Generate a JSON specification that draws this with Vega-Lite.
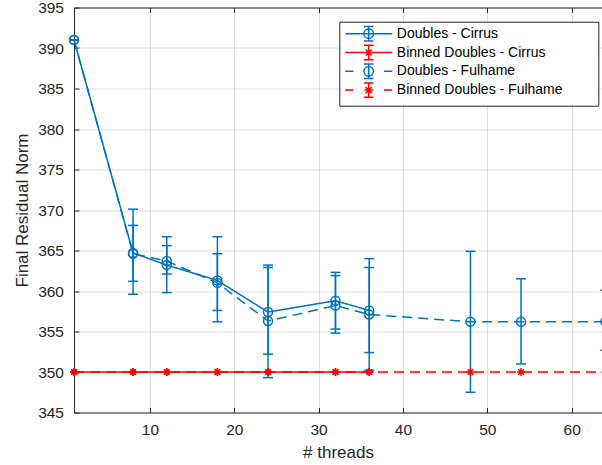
{
  "$schema": "https://vega.github.io/schema/vega-lite/v6.json",
  "width": 528,
  "height": 405,
  "autosize": {"type": "none"},
  "padding": {"left": 74, "top": 7.5, "right": 0, "bottom": 52.5},
  "config": {
    "font": "Liberation Sans",
    "view": {"stroke": null},
    "axis": {
      "domainColor": "#262626",
      "tickColor": "#262626",
      "labelColor": "#262626",
      "titleColor": "#262626",
      "labelFont": "Liberation Sans",
      "titleFont": "Liberation Sans",
      "labelFontSize": 15.5,
      "titleFontSize": 17,
      "titleFontWeight": "normal",
      "gridColor": "#262626",
      "gridOpacity": 0.15,
      "tickSize": -5,
      "labelFlush": false,
      "domainWidth": 1,
      "tickWidth": 1
    }
  },
  "data": {
    "values": [
      {"series": "Doubles - Cirrus", "threads": 1, "y": 391.0, "lo": 391.0, "hi": 391.0},
      {"series": "Doubles - Cirrus", "threads": 8, "y": 364.7, "lo": 359.6, "hi": 370.1},
      {"series": "Doubles - Cirrus", "threads": 12, "y": 363.2, "lo": 359.8, "hi": 366.7},
      {"series": "Doubles - Cirrus", "threads": 18, "y": 361.3, "lo": 356.2, "hi": 366.7},
      {"series": "Doubles - Cirrus", "threads": 24, "y": 357.4, "lo": 352.2, "hi": 362.9},
      {"series": "Doubles - Cirrus", "threads": 32, "y": 358.8, "lo": 355.3, "hi": 362.3},
      {"series": "Doubles - Cirrus", "threads": 36, "y": 357.6, "lo": 352.4, "hi": 362.9},
      {"series": "Binned Doubles - Cirrus", "threads": 1, "y": 350.0, "lo": 350.0, "hi": 350.0},
      {"series": "Binned Doubles - Cirrus", "threads": 8, "y": 350.0, "lo": 350.0, "hi": 350.0},
      {"series": "Binned Doubles - Cirrus", "threads": 12, "y": 350.0, "lo": 350.0, "hi": 350.0},
      {"series": "Binned Doubles - Cirrus", "threads": 18, "y": 350.0, "lo": 350.0, "hi": 350.0},
      {"series": "Binned Doubles - Cirrus", "threads": 24, "y": 350.0, "lo": 350.0, "hi": 350.0},
      {"series": "Binned Doubles - Cirrus", "threads": 32, "y": 350.0, "lo": 350.0, "hi": 350.0},
      {"series": "Binned Doubles - Cirrus", "threads": 36, "y": 350.0, "lo": 350.0, "hi": 350.0},
      {"series": "Doubles - Fulhame", "threads": 1, "y": 391.0, "lo": 391.0, "hi": 391.0},
      {"series": "Doubles - Fulhame", "threads": 8, "y": 364.6, "lo": 361.2, "hi": 368.1},
      {"series": "Doubles - Fulhame", "threads": 12, "y": 363.7, "lo": 362.1, "hi": 365.6},
      {"series": "Doubles - Fulhame", "threads": 18, "y": 361.0, "lo": 357.6, "hi": 364.6},
      {"series": "Doubles - Fulhame", "threads": 24, "y": 356.3, "lo": 349.3, "hi": 363.2},
      {"series": "Doubles - Fulhame", "threads": 32, "y": 358.2, "lo": 354.8, "hi": 361.9},
      {"series": "Doubles - Fulhame", "threads": 36, "y": 357.1, "lo": 350.2, "hi": 364.0},
      {"series": "Doubles - Fulhame", "threads": 48, "y": 356.2, "lo": 347.5, "hi": 364.9},
      {"series": "Doubles - Fulhame", "threads": 54, "y": 356.2, "lo": 351.0, "hi": 361.5},
      {"series": "Doubles - Fulhame", "threads": 64, "y": 356.2, "lo": 352.7, "hi": 360.1},
      {"series": "Binned Doubles - Fulhame", "threads": 1, "y": 350.0, "lo": 350.0, "hi": 350.0},
      {"series": "Binned Doubles - Fulhame", "threads": 8, "y": 350.0, "lo": 350.0, "hi": 350.0},
      {"series": "Binned Doubles - Fulhame", "threads": 12, "y": 350.0, "lo": 350.0, "hi": 350.0},
      {"series": "Binned Doubles - Fulhame", "threads": 18, "y": 350.0, "lo": 350.0, "hi": 350.0},
      {"series": "Binned Doubles - Fulhame", "threads": 24, "y": 350.0, "lo": 350.0, "hi": 350.0},
      {"series": "Binned Doubles - Fulhame", "threads": 32, "y": 350.0, "lo": 350.0, "hi": 350.0},
      {"series": "Binned Doubles - Fulhame", "threads": 36, "y": 350.0, "lo": 350.0, "hi": 350.0},
      {"series": "Binned Doubles - Fulhame", "threads": 48, "y": 350.0, "lo": 350.0, "hi": 350.0},
      {"series": "Binned Doubles - Fulhame", "threads": 54, "y": 350.0, "lo": 350.0, "hi": 350.0},
      {"series": "Binned Doubles - Fulhame", "threads": 64, "y": 350.0, "lo": 350.0, "hi": 350.0}
    ]
  },
  "layer": [
    {
      "transform": [{"filter": {"field": "series", "oneOf": ["Doubles - Cirrus", "Doubles - Fulhame"]}}],
      "mark": {"type": "rule", "strokeWidth": 1.5},
      "encoding": {
        "x": {"field": "threads", "type": "quantitative",
          "scale": {"domain": [1, 63.6], "nice": false, "zero": false},
          "axis": {"orient": "bottom", "values": [10, 20, 30, 40, 50, 60], "title": "# threads", "grid": true, "labelPadding": 15, "titlePadding": 6}},
        "y": {"field": "lo", "type": "quantitative",
          "scale": {"domain": [345, 395], "nice": false, "zero": false},
          "axis": {"values": [345, 350, 355, 360, 365, 370, 375, 380, 385, 390, 395], "title": "Final Residual Norm", "grid": true, "labelPadding": 15.5, "titlePadding": 6}},
        "y2": {"field": "hi"},
        "color": {"field": "series", "type": "nominal",
          "scale": {"domain": ["Doubles - Cirrus", "Binned Doubles - Cirrus", "Doubles - Fulhame", "Binned Doubles - Fulhame"], "range": ["#0072BD", "#FF0000", "#0072BD", "#FF0000"]},
          "legend": null}
      }
    },
    {
      "transform": [{"filter": {"field": "series", "oneOf": ["Doubles - Cirrus", "Doubles - Fulhame"]}}],
      "mark": {"type": "tick", "orient": "horizontal", "size": 10, "thickness": 1.5, "opacity": 1},
      "encoding": {
        "x": {"field": "threads", "type": "quantitative", "axis": null},
        "y": {"field": "lo", "type": "quantitative", "axis": null},
        "color": {"field": "series", "type": "nominal", "legend": null}
      }
    },
    {
      "transform": [{"filter": {"field": "series", "oneOf": ["Doubles - Cirrus", "Doubles - Fulhame"]}}],
      "mark": {"type": "tick", "orient": "horizontal", "size": 10, "thickness": 1.5, "opacity": 1},
      "encoding": {
        "x": {"field": "threads", "type": "quantitative", "axis": null},
        "y": {"field": "hi", "type": "quantitative", "axis": null},
        "color": {"field": "series", "type": "nominal", "legend": null}
      }
    },
    {
      "mark": {"type": "line", "strokeWidth": 1.5},
      "encoding": {
        "x": {"field": "threads", "type": "quantitative", "axis": null},
        "y": {"field": "y", "type": "quantitative", "axis": null},
        "color": {"field": "series", "type": "nominal", "legend": null},
        "strokeDash": {"field": "series", "type": "nominal",
          "scale": {"domain": ["Doubles - Cirrus", "Binned Doubles - Cirrus", "Doubles - Fulhame", "Binned Doubles - Fulhame"], "range": [[1, 0], [1, 0], [10, 6], [10, 6]]},
          "legend": null}
      }
    },
    {
      "transform": [{"filter": {"field": "series", "oneOf": ["Doubles - Cirrus", "Doubles - Fulhame"]}}],
      "mark": {"type": "point", "shape": "circle", "filled": false, "size": 80, "strokeWidth": 1.5, "opacity": 1},
      "encoding": {
        "x": {"field": "threads", "type": "quantitative", "axis": null},
        "y": {"field": "y", "type": "quantitative", "axis": null},
        "color": {"field": "series", "type": "nominal", "legend": null}
      }
    },
    {
      "transform": [{"filter": {"field": "series", "oneOf": ["Binned Doubles - Cirrus", "Binned Doubles - Fulhame"]}}],
      "mark": {"type": "point", "shape": "M-1,0L1,0M0,-1L0,1M-0.7,-0.7L0.7,0.7M-0.7,0.7L0.7,-0.7", "filled": false, "size": 64, "strokeWidth": 1.5, "opacity": 1},
      "encoding": {
        "x": {"field": "threads", "type": "quantitative", "axis": null},
        "y": {"field": "y", "type": "quantitative", "axis": null},
        "color": {"field": "series", "type": "nominal", "legend": null}
      }
    },
    {
      "mark": {"type": "point", "filled": false, "opacity": 0},
      "encoding": {
        "x": {"field": "threads", "type": "quantitative",
          "axis": {"orient": "top", "values": [10, 20, 30, 40, 50, 60], "labels": false, "title": null, "grid": false}},
        "y": {"field": "y", "type": "quantitative", "axis": null},
        "color": {"field": "series", "type": "nominal",
          "legend": {"orient": "none", "legendX": 265.3, "legendY": 14.2, "title": null, "symbolSize": 144, "symbolOffset": 17.4, "symbolStrokeWidth": 1.5, "symbolOpacity": 1, "labelFontSize": 14, "labelFont": "Liberation Sans", "labelColor": "#000000", "labelLimit": 400, "fillColor": "#ffffff", "strokeColor": "#262626", "padding": 5, "rowPadding": -3.2, "labelOffset": 21.1, "labelExpr": "datum.label + '\u2800\u2800\u2800'"}},
        "shape": {"field": "series", "type": "nominal",
          "scale": {"domain": ["Doubles - Cirrus", "Binned Doubles - Cirrus", "Doubles - Fulhame", "Binned Doubles - Fulhame"],
            "range": [
              "M-3.92,0L3.92,0M0.8,0A0.8,0.8 0 1,1 -0.8,0A0.8,0.8 0 1,1 0.8,0M0,-1.2L0,1.2M-0.8,-1.2L0.8,-1.2M-0.8,1.2L0.8,1.2",
              "M-3.92,0L3.92,0M-0.7,0L0.7,0M0,-0.7L0,0.7M-0.5,-0.5L0.5,0.5M-0.5,0.5L0.5,-0.5M0,-1.2L0,1.2M-0.8,-1.2L0.8,-1.2M-0.8,1.2L0.8,1.2",
              "M-3.92,0L-2.55,0M2.55,0L3.92,0M0.8,0A0.8,0.8 0 1,1 -0.8,0A0.8,0.8 0 1,1 0.8,0M0,-1.2L0,1.2M-0.8,-1.2L0.8,-1.2M-0.8,1.2L0.8,1.2",
              "M-3.92,0L-2.55,0M2.55,0L3.92,0M-0.7,0L0.7,0M0,-0.7L0,0.7M-0.5,-0.5L0.5,0.5M-0.5,0.5L0.5,-0.5M0,-1.2L0,1.2M-0.8,-1.2L0.8,-1.2M-0.8,1.2L0.8,1.2"
            ]},
          "legend": {"orient": "none", "legendX": 265.3, "legendY": 14.2, "title": null, "symbolSize": 144, "symbolOffset": 17.4, "symbolStrokeWidth": 1.5, "symbolOpacity": 1, "labelFontSize": 14, "labelFont": "Liberation Sans", "labelColor": "#000000", "labelLimit": 400, "fillColor": "#ffffff", "strokeColor": "#262626", "padding": 5, "rowPadding": -3.2, "labelOffset": 21.1, "labelExpr": "datum.label + '\u2800\u2800\u2800'"}}
      }
    }
  ],
  "resolve": {"axis": {"x": "independent", "y": "independent"}, "legend": {"color": "independent", "shape": "independent"}}
}
